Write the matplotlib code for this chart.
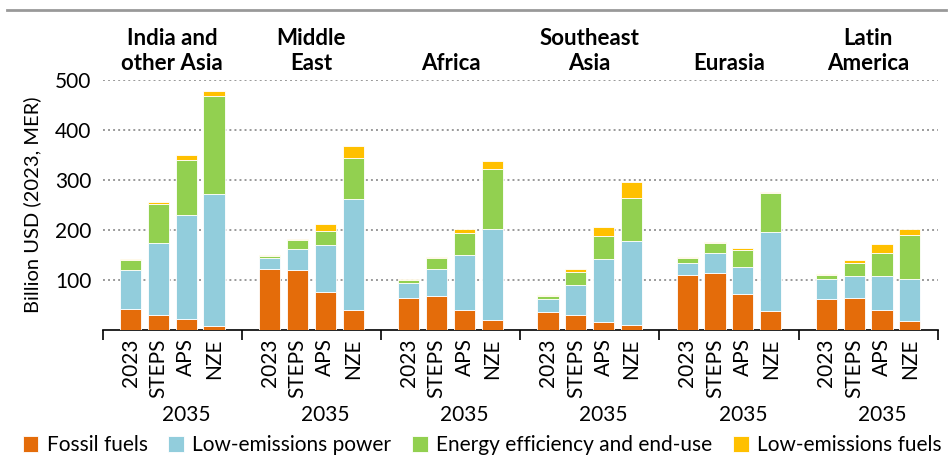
import numpy as np
import matplotlib.pyplot as plt
from matplotlib.lines import Line2D

plt.rcParams['font.family'] = ['Lato', 'DejaVu Sans']

regions = ["India and\nother Asia", "Middle\nEast", "Africa", "Southeast\nAsia", "Eurasia", "Latin\nAmerica"]
scenarios = ["2023", "STEPS", "APS", "NZE"]
series = ["Fossil fuels", "Low-emissions power", "Energy efficiency and end-use", "Low-emissions fuels"]
colors = ["#E46C0A", "#92CDDC", "#92D050", "#FFC000"]

# cumulative tops, converted to segments below
# order per region: 2023, STEPS, APS, NZE
fossil = [[43, 29, 21, 7], [123, 121, 77, 40], [65, 69, 41, 19],
          [37, 29, 15, 9], [111, 115, 73, 39], [63, 65, 40, 17]]
lep_top = [[120, 175, 230, 272], [144, 162, 170, 263], [95, 122, 151, 202],
           [62, 90, 143, 178], [135, 154, 127, 196], [103, 109, 109, 103]]
ee_top = [[141, 253, 341, 469], [149, 181, 198, 345], [101, 145, 195, 323],
          [69, 117, 189, 265], [145, 175, 161, 275], [111, 135, 155, 191]]
lef_top = [[143, 256, 351, 478], [150, 183, 213, 368], [102, 147, 202, 339],
           [71, 122, 207, 296], [146, 176, 165, 277], [113, 141, 172, 203]]

fossil = np.array(fossil, float)
lep = np.array(lep_top, float) - fossil
ee = np.array(ee_top, float) - np.array(lep_top, float)
lef = np.array(lef_top, float) - np.array(ee_top, float)
segments = [fossil, lep, ee, lef]

fig = plt.figure(figsize=(9.51, 4.58), dpi=100)
ax = fig.add_axes([0.108, 0.2795, 0.878, 0.5455])

ngroup = len(regions)
pos = np.array([[g * 5 + j + 1 for j in range(4)] for g in range(ngroup)], float)

for s, (seg, col) in enumerate(zip(segments, colors)):
    bottom = sum(segments[:s]) if s > 0 else np.zeros_like(fossil)
    ax.bar(pos.ravel(), seg.ravel(), bottom=bottom.ravel(), width=0.76,
           color=col, edgecolor="white", linewidth=0.6, label=series[s], zorder=3)

ax.set_xlim(0, ngroup * 5)
ax.set_ylim(0, 500)
ax.set_yticks([100, 200, 300, 400, 500])
ax.tick_params(axis="y", length=0, labelsize=15, pad=8)
ax.yaxis.grid(True, color="#999999", linestyle=(0, (1, 1.6)), linewidth=1.4, zorder=0)
ax.set_ylabel("Billion USD (2023, MER)", fontsize=14.5, labelpad=10)

ax.set_xticks(pos.ravel())
ax.set_xticklabels(scenarios * ngroup, rotation=90, fontsize=15)
ax.tick_params(axis="x", length=0, pad=6)
ax.set_xticks(np.arange(0, ngroup * 5 + 1, 5), minor=True)
ax.tick_params(axis="x", which="minor", length=7, width=1.2, color="black")

for sp in ["top", "right", "left"]:
    ax.spines[sp].set_visible(False)
ax.spines["bottom"].set_linewidth(1.2)

for g, name in enumerate(regions):
    cx = g * 5 + 2.5
    ax.text(cx, 512, name, ha="center", va="bottom", fontsize=16,
            fontweight="bold", linespacing=1.25)
    ax.text(g * 5 + 3, -170, "2035", ha="center", va="center", fontsize=15,
            transform=ax.transData, clip_on=False)

fig.add_artist(Line2D([0.007, 0.995], [0.978, 0.978], color="#999999", lw=2))

fig.legend(loc="lower center", bbox_to_anchor=(0.507, -0.035), ncol=4, frameon=False,
           fontsize=15, handlelength=0.75, handleheight=0.75, handletextpad=0.4,
           columnspacing=1.0)

fig.savefig("out.png", dpi=100)
